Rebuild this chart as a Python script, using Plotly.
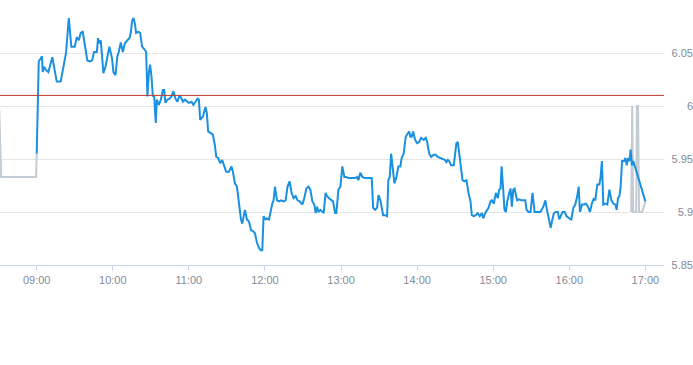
import plotly.graph_objects as go
import pandas as pd

BASE = pd.Timestamp("2024-01-02 09:00")

# Regular session: minutes after 09:00 and price
minutes = [0, 1.6, 3.2, 4.2, 4.7, 5.8, 7.3, 9.2, 12.3, 13.7, 15.8, 18.9, 21.0, 23.1, 25.3, 27.3, 30.0,
           31.6, 33.2, 34.7, 36.3, 37.9, 39.9, 42.1, 43.7, 45.2, 47.4, 48.4, 49.4, 50.5, 51.6, 52.6,
           54.2, 55.7, 57.3, 59.4, 60.5, 62.1, 63.6, 64.7, 66.3, 67.9, 69.5, 71.5, 73.1, 74.2, 75.2,
           76.3, 77.4, 78.4, 80.0, 81.6, 83.1, 85.3, 86.3, 87.3, 88.4, 89.4, 90.5, 91.6, 92.6, 93.9,
           94.7, 96.3, 97.9, 99.5, 100.5, 101.5, 103.1, 104.7, 106.3, 107.8, 109.4, 111.0, 112.6,
           114.2, 115.3, 116.8, 118.4, 120.0, 122.1, 123.6, 126.8, 127.9, 128.9, 131.1, 133.1, 134.2,
           135.2, 137.4, 138.9, 140.5, 141.6, 143.1, 144.7, 146.3, 147.9, 149.4, 151.6, 153.6, 154.7,
           156.3, 157.9, 159.5, 161.1, 162.1, 164.2, 165.8, 167.4, 169.0, 170.5, 172.1, 173.7, 175.3,
           176.8, 177.9, 178.9, 180.5, 181.6, 183.2, 184.7, 185.8, 186.8, 187.9, 189.5, 191.1, 192.6,
           194.7, 196.3, 197.8, 199.4, 201.0, 202.6, 204.2, 205.7, 207.3, 209.5, 211.0, 212.6, 214.2,
           215.8, 217.4, 218.9, 220.0, 221.1, 222.1, 223.7, 225.2, 226.3, 227.8, 229.0, 230.5, 232.1,
           233.7, 235.3, 236.3, 237.9, 239.5, 241.0, 242.6, 244.2, 245.8, 247.4, 248.9, 251.1, 252.6,
           253.7, 255.2, 256.8, 258.9, 261.6, 264.2, 265.3, 266.8, 268.4, 269.5, 271.0, 272.1, 273.2,
           274.7, 276.3, 277.3, 278.4, 279.5, 280.5, 282.1, 283.7, 285.2, 286.8, 287.8, 289.4, 291.0,
           292.6, 293.7, 294.7, 295.7, 296.8, 298.4, 300.0, 301.6, 303.2, 305.2, 306.8, 307.9, 309.5,
           311.1, 313.1, 314.7, 316.3, 318.4, 320.5, 322.1, 323.1, 324.2, 325.3, 326.8, 328.9, 330.0,
           331.0, 332.1, 333.2, 334.2, 335.8, 337.3, 338.9, 340.5, 342.1, 343.1, 344.7, 346.3, 347.8,
           349.4, 351.0, 352.1, 353.7, 355.3, 356.3, 357.9, 358.9, 360.5, 362.1, 363.6, 364.7, 365.8,
           366.6, 367.9, 368.9, 370.0, 371.1, 372.6, 373.7, 374.7, 375.8, 376.8, 377.8, 378.9, 380.5,
           382.1, 383.7, 385.3, 386.3, 387.9, 389.4, 391.0, 392.6, 394.7, 397.3, 399.5, 401.1, 402.1,
           403.7, 405.3, 406.3, 407.9, 409.4, 411.0, 412.1, 413.1, 414.7, 416.3, 417.9, 420.0, 421.6,
           423.2, 424.7, 426.3, 427.4, 428.4, 430.0, 431.5, 433.1, 434.7, 436.3, 437.8, 439.4, 440.5,
           442.1, 443.7, 444.7, 445.7, 446.8, 448.4, 450.0, 451.6, 453.2, 454.7, 456.3, 457.4, 458.4,
           459.5, 460.5, 461.6, 463.2, 464.2, 465.3, 466.3, 467.4, 468.4, 469.4, 470.5, 480.0]
price = [5.955, 6.042, 6.045, 6.047, 6.032, 6.037, 6.034, 6.032, 6.046, 6.036, 6.023, 6.023, 6.037,
         6.050, 6.083, 6.056, 6.056, 6.065, 6.062, 6.069, 6.070, 6.059, 6.043, 6.042, 6.043, 6.051,
         6.051, 6.064, 6.059, 6.062, 6.048, 6.031, 6.037, 6.048, 6.056, 6.045, 6.032, 6.029, 6.047,
         6.051, 6.060, 6.051, 6.059, 6.062, 6.064, 6.069, 6.080, 6.083, 6.078, 6.069, 6.070, 6.069,
         6.056, 6.053, 6.051, 6.009, 6.031, 6.039, 6.028, 6.009, 6.010, 5.984, 6.006, 6.001, 6.006,
         6.015, 6.015, 6.003, 6.006, 6.007, 6.009, 6.014, 6.007, 6.004, 6.010, 6.007, 6.004, 6.006,
         6.004, 6.003, 6.004, 6.001, 6.007, 6.006, 5.987, 5.990, 5.999, 5.993, 5.976, 5.974, 5.973,
         5.963, 5.952, 5.951, 5.946, 5.949, 5.943, 5.938, 5.938, 5.943, 5.938, 5.927, 5.924, 5.908,
         5.893, 5.889, 5.902, 5.893, 5.891, 5.883, 5.882, 5.880, 5.871, 5.866, 5.864, 5.864, 5.896,
         5.893, 5.894, 5.893, 5.904, 5.908, 5.911, 5.924, 5.911, 5.910, 5.911, 5.910, 5.911, 5.924,
         5.929, 5.918, 5.913, 5.915, 5.911, 5.910, 5.907, 5.913, 5.922, 5.924, 5.921, 5.910, 5.907,
         5.899, 5.905, 5.900, 5.902, 5.900, 5.899, 5.918, 5.915, 5.913, 5.911, 5.910, 5.899, 5.899,
         5.921, 5.924, 5.943, 5.933, 5.933, 5.932, 5.932, 5.932, 5.932, 5.933, 5.930, 5.937, 5.933,
         5.932, 5.932, 5.932, 5.904, 5.902, 5.904, 5.916, 5.911, 5.905, 5.897, 5.897, 5.896, 5.930,
         5.933, 5.955, 5.944, 5.927, 5.933, 5.943, 5.943, 5.951, 5.955, 5.971, 5.974, 5.976, 5.971,
         5.971, 5.976, 5.968, 5.965, 5.966, 5.970, 5.968, 5.970, 5.966, 5.955, 5.952, 5.954, 5.954,
         5.952, 5.951, 5.950, 5.949, 5.947, 5.949, 5.948, 5.944, 5.944, 5.955, 5.965, 5.966, 5.955,
         5.949, 5.930, 5.929, 5.930, 5.918, 5.910, 5.897, 5.896, 5.897, 5.899, 5.896, 5.899, 5.894,
         5.899, 5.902, 5.904, 5.910, 5.911, 5.908, 5.918, 5.913, 5.921, 5.922, 5.943, 5.921, 5.902,
         5.900, 5.910, 5.918, 5.922, 5.905, 5.921, 5.922, 5.916, 5.911, 5.912, 5.911, 5.911, 5.911,
         5.902, 5.900, 5.900, 5.918, 5.900, 5.900, 5.900, 5.905, 5.911, 5.904, 5.894, 5.885, 5.891,
         5.899, 5.900, 5.900, 5.893, 5.896, 5.900, 5.900, 5.896, 5.894, 5.893, 5.904, 5.907, 5.915,
         5.924, 5.900, 5.907, 5.907, 5.908, 5.905, 5.900, 5.908, 5.913, 5.911, 5.926, 5.926, 5.933,
         5.948, 5.907, 5.908, 5.907, 5.921, 5.911, 5.908, 5.907, 5.902, 5.913, 5.915, 5.924, 5.948,
         5.948, 5.951, 5.944, 5.951, 5.948, 5.959, 5.944, 5.948, 5.910]

# Pre-market and after-hours (grey)
pre_minutes = [-29.5, -28.0, -0.5, 0.0]
pre_price = [5.996, 5.933, 5.933, 5.955]
post_minutes = [468.8, 469.6, 470.4, 472.8, 473.3, 474.2, 475.0, 477.4, 480.0]
post_price = [5.900, 6.000, 5.900, 5.900, 6.000, 6.000, 5.900, 5.900, 5.910]

prev_close = 6.01
y_ticks = [5.85, 5.9, 5.95, 6.0, 6.05]
y_tick_labels = ["5.85", "5.9", "5.95", "6", "6.05"]
hour_ticks = ["09:00", "10:00", "11:00", "12:00", "13:00", "14:00", "15:00", "16:00", "17:00"]


def to_time(mins):
    return [BASE + pd.Timedelta(minutes=m) for m in mins]


LABEL_COLOR = "#7f8b99"
FONT = "Liberation Sans, Arial, sans-serif"

fig = go.Figure()
fig.add_trace(go.Scatter(x=to_time(pre_minutes), y=pre_price, mode="lines",
                         line=dict(color="#c3cbd3", width=2), showlegend=False, hoverinfo="skip"))
fig.add_trace(go.Scatter(x=to_time(post_minutes), y=post_price, mode="lines",
                         line=dict(color="#c3cbd3", width=2), showlegend=False, hoverinfo="skip"))
fig.add_trace(go.Scatter(x=to_time(minutes), y=price, mode="lines",
                         line=dict(color="#1a90e0", width=2), showlegend=False))
fig.add_trace(go.Scatter(x=[None], y=[None], yaxis="y2", showlegend=False, hoverinfo="skip"))

fig.add_shape(type="line", xref="x domain", x0=0, x1=1, yref="y", y0=prev_close, y1=prev_close,
              line=dict(color="#c0392b", width=1))

tick_dates = [pd.Timestamp("2024-01-02 " + h) for h in hour_ticks]

fig.update_layout(
    width=693, height=365,
    margin=dict(l=0, r=0, t=0, b=100),
    paper_bgcolor="white", plot_bgcolor="white",
    font=dict(family=FONT, size=11, color=LABEL_COLOR),
    xaxis=dict(
        domain=[0, 664 / 693],
        type="date",
        range=[pd.Timestamp("2024-01-02 08:31:03"), pd.Timestamp("2024-01-02 17:14:41")],
        tickvals=tick_dates, ticktext=hour_ticks,
        showgrid=False, showline=True, linecolor="#ccd6eb", linewidth=1,
        ticks="outside", ticklen=5, tickcolor="#ccd6eb", tickwidth=1,
        tickfont=dict(size=11, color=LABEL_COLOR),
        zeroline=False,
    ),
    yaxis=dict(
        range=[5.85, 6.1], tickvals=y_ticks, showticklabels=False,
        showgrid=True, gridcolor="#e6e6e6", gridwidth=1, zeroline=False, showline=False,
    ),
    yaxis2=dict(
        overlaying="y", side="left", anchor="free", position=1,
        range=[5.85, 6.1], tickvals=y_ticks, ticktext=y_tick_labels,
        ticklabelposition="outside", showgrid=False, zeroline=False, showline=False,
        ticks="", tickfont=dict(size=11, color=LABEL_COLOR),
    ),
)

fig.write_html("out.html")
